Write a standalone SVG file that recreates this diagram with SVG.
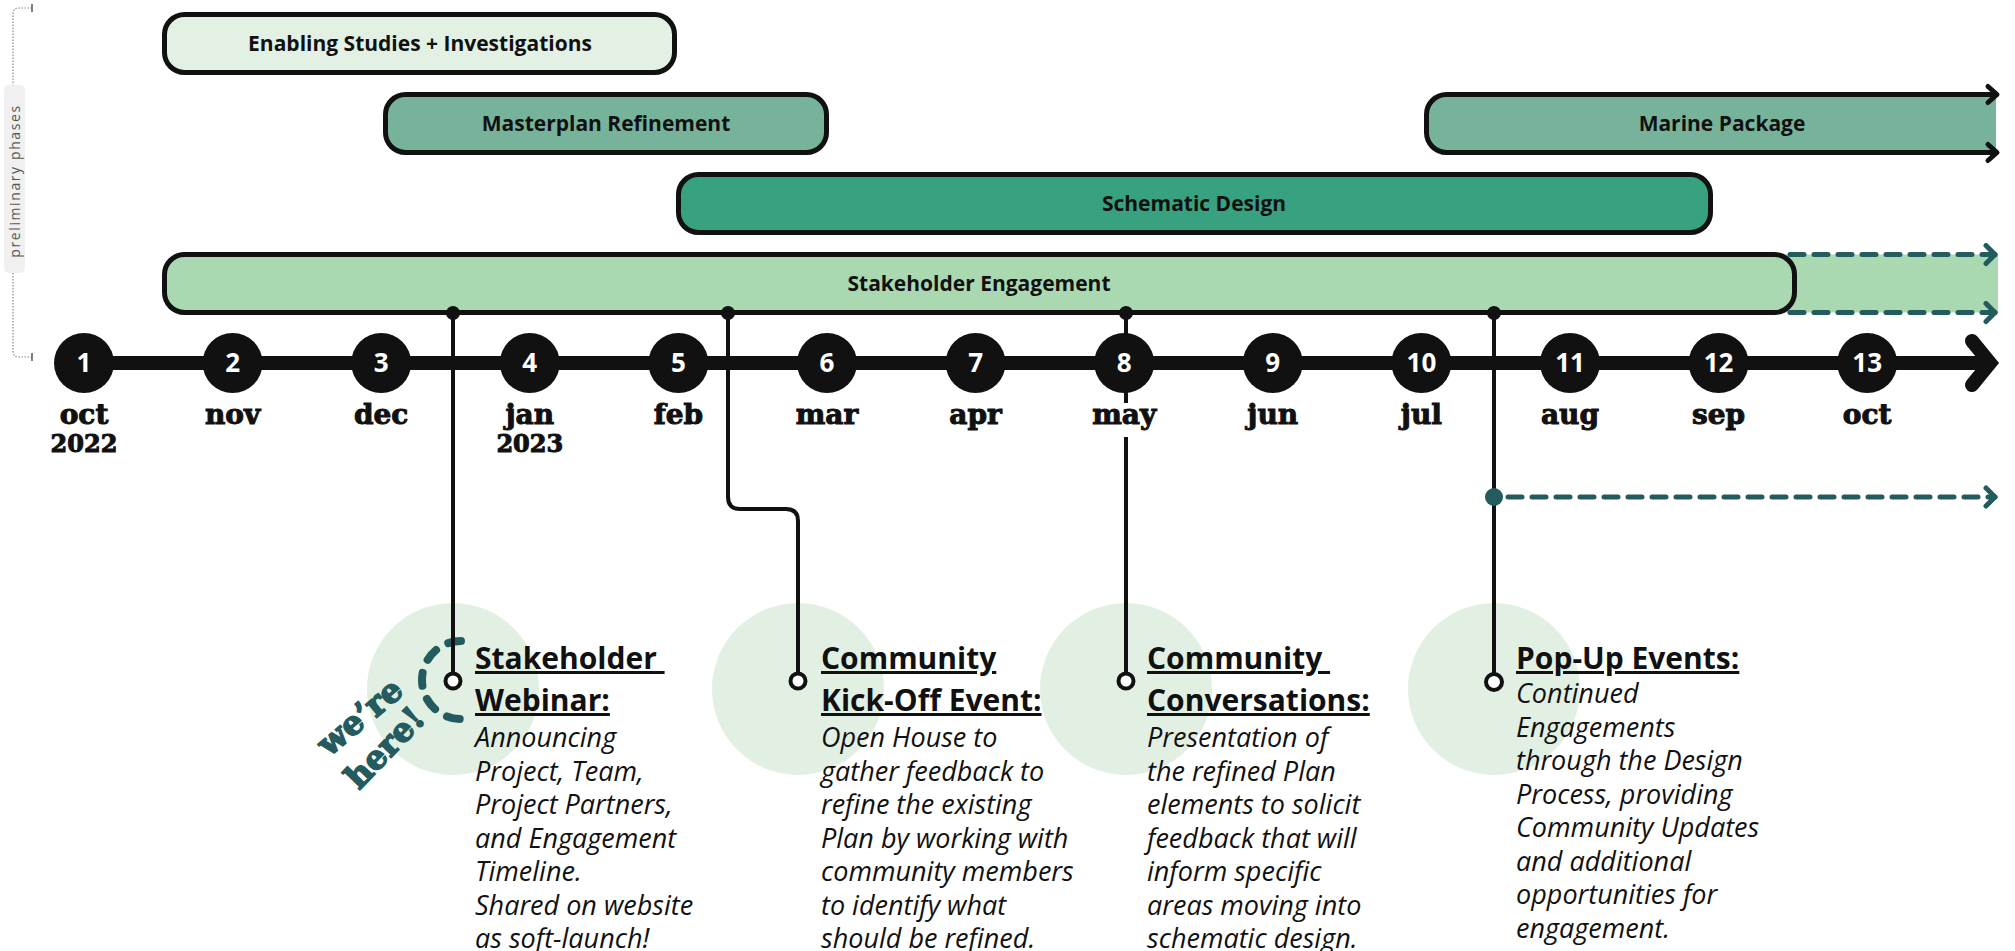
<svg xmlns="http://www.w3.org/2000/svg" width="2015" height="951" viewBox="0 0 2015 951">
<style>
.bar{stroke:#111;stroke-width:5}
.bl{font-family:"Open Sans",sans-serif;font-weight:700;font-size:21px;fill:#111;text-anchor:middle}
.num{font-family:"Open Sans",sans-serif;font-weight:700;font-size:26px;fill:#fff;text-anchor:middle}
.mo{font-family:"DejaVu Serif",serif;font-weight:700;font-size:28px;fill:#111;stroke:#111;stroke-width:1;text-anchor:middle}
.yr{font-size:24px}
.hd{font-family:"Open Sans",sans-serif;font-weight:700;font-size:30px;fill:#111;text-decoration:underline}
.bd{font-family:"Open Sans",sans-serif;font-style:italic;font-size:27px;fill:#111}
.halo{fill:#e2f0e3}
.conn{stroke:#111;stroke-width:4;fill:none}
.pin{fill:#111}
.end{fill:#fff;stroke:#111;stroke-width:4}
.dash{stroke:#245b5f;stroke-width:5;stroke-dasharray:14 10;stroke-linecap:round;fill:none}
.tc{fill:#111}
.here{font-family:"DejaVu Serif",serif;font-weight:700;font-size:33px;fill:#245b5f;stroke:#245b5f;stroke-width:1.6;text-anchor:middle}
</style>
<defs>
<marker id="chevT" viewBox="-14 -12 18 24" markerWidth="18" markerHeight="24" refX="0" refY="0" orient="auto" markerUnits="userSpaceOnUse">
<path d="M-9 -9 L0 0 L-9 9" fill="none" stroke="#245b5f" stroke-width="5" stroke-linecap="round" stroke-linejoin="round"/>
</marker>
</defs>
<rect width="2015" height="951" fill="#fff"/>

<g id="preliminary-phases">
<path d="M32 8 H19 Q13 8 13 14 V85 M13 273 V351 Q13 357 19 357 H32" fill="none" stroke="#8a8a8a" stroke-width="1.2" stroke-dasharray="1.5 1.5"/>
<path d="M32 4 V12 M32 353 V361" stroke="#555" stroke-width="1.5"/>
<rect x="4" y="85" width="21" height="188" rx="5" fill="#eff0ef"/>
<text transform="translate(20 181) rotate(-90)" text-anchor="middle" font-family="Open Sans, sans-serif" font-size="14" letter-spacing="1.6" fill="#555">preliminary phases</text>
</g>

<g id="bar-enabling">
<rect class="bar" x="164.5" y="14.5" width="510" height="58" rx="20" fill="#e3f1e4"/>
<text class="bl" x="420" y="51">Enabling Studies + Investigations</text>
</g>
<g id="bar-masterplan">
<rect class="bar" x="385.5" y="94.5" width="441" height="58" rx="20" fill="#77b39a"/>
<text class="bl" x="606" y="131">Masterplan Refinement</text>
</g>
<g id="bar-marine">
<path d="M1996 94.5 H1446.5 A20 20 0 0 0 1426.5 114.5 V132.5 A20 20 0 0 0 1446.5 152.5 H1996" fill="#77b39a" stroke="none"/>
<path d="M1996 94.5 H1446.5 A20 20 0 0 0 1426.5 114.5 V132.5 A20 20 0 0 0 1446.5 152.5 H1996" fill="none" stroke="#111" stroke-width="5"/>
<path d="M1988 86.5 L1997 94.5 L1988 102.5 M1988 144.5 L1997 152.5 L1988 160.5" fill="none" stroke="#111" stroke-width="5" stroke-linecap="round" stroke-linejoin="round"/>
<text class="bl" x="1722" y="131">Marine Package</text>
</g>
<g id="bar-schematic">
<rect class="bar" x="678.5" y="174.5" width="1032" height="58" rx="20" fill="#38a17f"/>
<text class="bl" x="1194" y="211">Schematic Design</text>
</g>
<g id="bar-stakeholder">
<rect x="1770" y="254.5" width="228" height="58" fill="#a9d8b1"/>
<rect class="bar" x="164.5" y="254.5" width="1630" height="58" rx="20" fill="#a9d8b1"/>
<path class="dash" d="M1790 254.5 H1995" marker-end="url(#chevT)"/>
<path class="dash" d="M1790 312.5 H1995" marker-end="url(#chevT)"/>
<text class="bl" x="979" y="291">Stakeholder Engagement</text>
</g>

<g id="ev-webinar">
<circle class="halo" cx="453" cy="689" r="86"/>
<path d="M461 641 A39 39 0 0 0 461 719" fill="none" stroke="#245b5f" stroke-width="8" stroke-linecap="round" stroke-dasharray="13 14"/>
<text class="here" transform="translate(360 717) rotate(-40)" x="0" y="11">we’re</text>
<text class="here" transform="translate(385 748) rotate(-46)" x="0" y="11">here!</text>
<text class="hd" x="475" y="669" xml:space="preserve">Stakeholder </text>
<text class="hd" x="475" y="711">Webinar:</text>
<text class="bd"><tspan x="475" y="747">Announcing</tspan><tspan x="475" y="780.5">Project, Team,</tspan><tspan x="475" y="814">Project Partners,</tspan><tspan x="475" y="847.5">and Engagement</tspan><tspan x="475" y="881">Timeline.</tspan><tspan x="475" y="914.5">Shared on website</tspan><tspan x="475" y="948">as soft-launch!</tspan></text>
</g>
<g id="ev-kickoff">
<circle class="halo" cx="798" cy="689" r="86"/>
<text class="hd" x="821" y="669">Community</text>
<text class="hd" x="821" y="711">Kick-Off Event:</text>
<text class="bd"><tspan x="821" y="747">Open House to</tspan><tspan x="821" y="780.5">gather feedback to</tspan><tspan x="821" y="814">refine the existing</tspan><tspan x="821" y="847.5">Plan by working with</tspan><tspan x="821" y="881">community members</tspan><tspan x="821" y="914.5">to identify what</tspan><tspan x="821" y="948">should be refined.</tspan></text>
</g>
<g id="ev-conversations">
<circle class="halo" cx="1126" cy="689" r="86"/>
<text class="hd" x="1147" y="669" xml:space="preserve">Community </text>
<text class="hd" x="1147" y="711">Conversations:</text>
<text class="bd"><tspan x="1147" y="747">Presentation of</tspan><tspan x="1147" y="780.5">the refined Plan</tspan><tspan x="1147" y="814">elements to solicit</tspan><tspan x="1147" y="847.5">feedback that will</tspan><tspan x="1147" y="881">inform specific</tspan><tspan x="1147" y="914.5">areas moving into</tspan><tspan x="1147" y="948">schematic design.</tspan></text>
</g>
<g id="ev-popup">
<circle class="halo" cx="1494" cy="689" r="86"/>
<text class="hd" x="1516" y="669">Pop-Up Events:</text>
<text class="bd"><tspan x="1516" y="703">Continued</tspan><tspan x="1516" y="736.5">Engagements</tspan><tspan x="1516" y="770">through the Design</tspan><tspan x="1516" y="803.5">Process, providing</tspan><tspan x="1516" y="837">Community Updates</tspan><tspan x="1516" y="870.5">and additional</tspan><tspan x="1516" y="904">opportunities for</tspan><tspan x="1516" y="937.5">engagement.</tspan></text>
</g>

<g id="connectors">
<path class="conn" d="M453 312 V672"/>
<path class="conn" d="M728 312 V497 Q728 509 740 509 H786 Q798 509 798 521 V672"/>
<path class="conn" d="M1126 312 V403 M1126 437 V672"/>
<path class="conn" d="M1494 312 V673"/>
<circle class="pin" cx="453" cy="313" r="7"/>
<circle class="pin" cx="728" cy="313" r="7"/>
<circle class="pin" cx="1126" cy="313" r="7"/>
<circle class="pin" cx="1494" cy="313" r="7"/>
<circle class="end" cx="453" cy="681" r="7.5"/>
<circle class="end" cx="798" cy="681" r="7.5"/>
<circle class="end" cx="1126" cy="681" r="7.5"/>
<circle class="end" cx="1494" cy="682" r="8"/>
<path class="dash" d="M1508 497 H1995" marker-end="url(#chevT)"/>
<circle cx="1494" cy="497" r="9" fill="#245b5f"/>
</g>

<g id="timeline">
<path d="M84 363 H1988" stroke="#111" stroke-width="14"/>
<path d="M1972 341 L1990 363 L1972 385" fill="none" stroke="#111" stroke-width="14" stroke-linecap="round" stroke-linejoin="miter"/>
</g>
<g id="m1"><circle class="tc" cx="84" cy="363" r="30"/><text class="num" x="84" y="372">1</text><text class="mo" x="84" y="424">oct</text><text class="mo yr" x="84" y="452">2022</text></g>
<g id="m2"><circle class="tc" cx="232.6" cy="363" r="30"/><text class="num" x="232.6" y="372">2</text><text class="mo" x="232.6" y="424">nov</text></g>
<g id="m3"><circle class="tc" cx="381.2" cy="363" r="30"/><text class="num" x="381.2" y="372">3</text><text class="mo" x="381.2" y="424">dec</text></g>
<g id="m4"><circle class="tc" cx="529.8" cy="363" r="30"/><text class="num" x="529.8" y="372">4</text><text class="mo" x="529.8" y="424">jan</text><text class="mo yr" x="529.8" y="452">2023</text></g>
<g id="m5"><circle class="tc" cx="678.4" cy="363" r="30"/><text class="num" x="678.4" y="372">5</text><text class="mo" x="678.4" y="424">feb</text></g>
<g id="m6"><circle class="tc" cx="827" cy="363" r="30"/><text class="num" x="827" y="372">6</text><text class="mo" x="827" y="424">mar</text></g>
<g id="m7"><circle class="tc" cx="975.6" cy="363" r="30"/><text class="num" x="975.6" y="372">7</text><text class="mo" x="975.6" y="424">apr</text></g>
<g id="m8"><circle class="tc" cx="1124.2" cy="363" r="30"/><text class="num" x="1124.2" y="372">8</text><text class="mo" x="1124.2" y="424">may</text></g>
<g id="m9"><circle class="tc" cx="1272.8" cy="363" r="30"/><text class="num" x="1272.8" y="372">9</text><text class="mo" x="1272.8" y="424">jun</text></g>
<g id="m10"><circle class="tc" cx="1421.4" cy="363" r="30"/><text class="num" x="1421.4" y="372">10</text><text class="mo" x="1421.4" y="424">jul</text></g>
<g id="m11"><circle class="tc" cx="1570" cy="363" r="30"/><text class="num" x="1570" y="372">11</text><text class="mo" x="1570" y="424">aug</text></g>
<g id="m12"><circle class="tc" cx="1718.6" cy="363" r="30"/><text class="num" x="1718.6" y="372">12</text><text class="mo" x="1718.6" y="424">sep</text></g>
<g id="m13"><circle class="tc" cx="1867.2" cy="363" r="30"/><text class="num" x="1867.2" y="372">13</text><text class="mo" x="1867.2" y="424">oct</text></g>
</svg>
